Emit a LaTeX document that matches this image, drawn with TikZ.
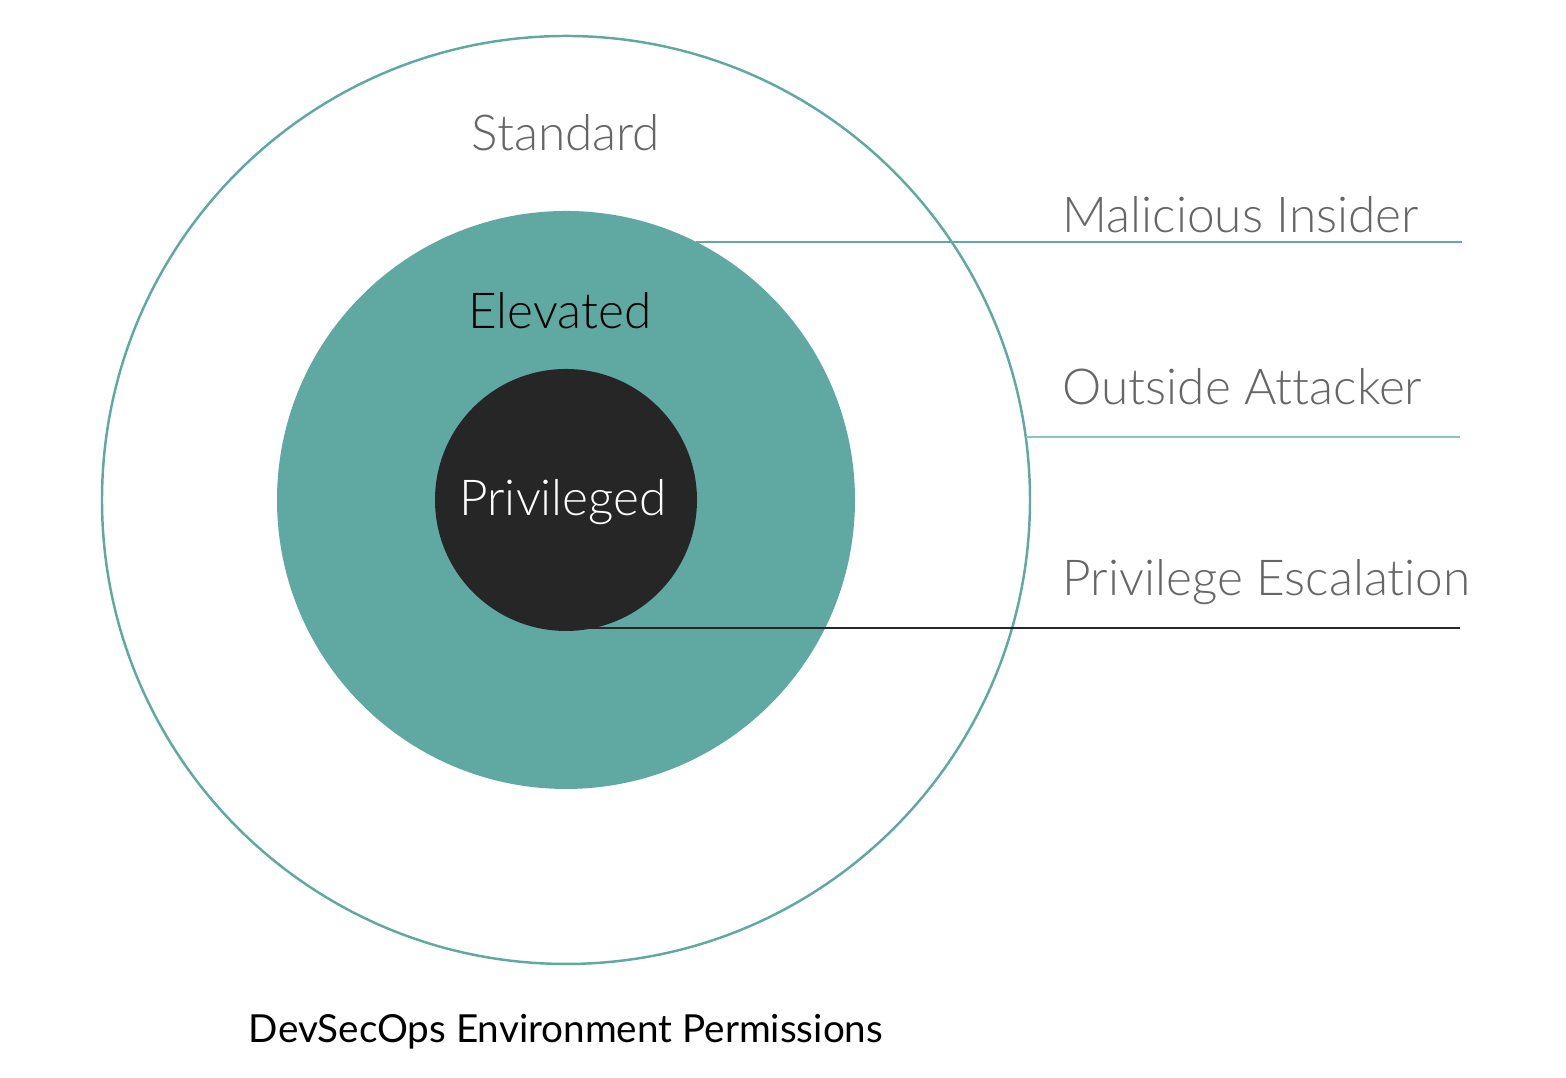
\documentclass[tikz,border=0pt]{standalone}
\usepackage{fontspec}
\setmainfont{Lato}[UprightFont={* Light}, Ligatures={NoCommon}]
\newfontfamily\capfont{Lato}[Ligatures={NoCommon}]
\usepackage{tikz}
\definecolor{teal}{HTML}{5FA9A2}
\definecolor{paleteal}{HTML}{8CC6C0}
\definecolor{ink}{HTML}{262626}
\definecolor{labelgray}{HTML}{666666}
\tikzset{
  ring/.style={draw=teal, line width=0.7pt},
  tag/.style={anchor=base west, text=labelgray, font=\fontsize{14.1}{17}\selectfont, inner sep=0pt},
  zone/.style={anchor=base, font=\fontsize{14.1}{17}\selectfont, inner sep=0pt}
}

\begin{document}
\begin{tikzpicture}
  \useasboundingbox (0,0) rectangle (15.66,10.78);

  \coordinate (c) at (5.66,5.78);
  \draw [ring] (c) circle (4.64);
  \fill [teal] (c) circle (2.89);
  \fill [ink] (c) circle (1.31);

  \node [zone, text=labelgray] (std) at (5.66,9.27) {Standard};
  \node [zone, text=black] (elev) at (5.60,7.49) {Elevated};
  \node [zone, text=white] (priv) at (5.63,5.62) {Privileged};

  \node [tag] (mal) at (10.62,8.45) {Malicious Insider};
  \node [tag] (out) at (10.62,6.73) {Outside Attacker};
  \node [tag] (esc) at (10.62,4.82) {Privilege Escalation};

  \coordinate (malA) at (6.96,8.36);
  \coordinate (malB) at (14.62,8.36);
  \coordinate (outA) at (10.26,6.41);
  \coordinate (outB) at (14.60,6.41);
  \coordinate (escA) at (5.66,4.50);
  \coordinate (escB) at (14.60,4.50);

  \draw [teal, line width=0.7pt] (malA) -- (malB);
  \draw [paleteal, line width=0.7pt] (outA) -- (outB);
  \draw [ink, line width=0.7pt] (escA) -- (escB);

  \node [anchor=base, inner sep=0pt, font=\capfont\fontsize{11}{13}\selectfont] (cap) at (5.66,0.35) {DevSecOps Environment Permissions};
\end{tikzpicture}
\end{document}
